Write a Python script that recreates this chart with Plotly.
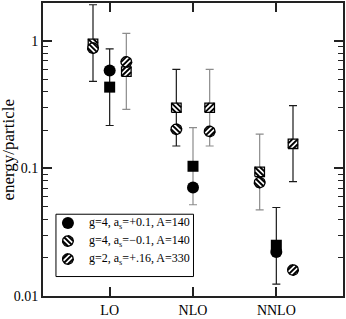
import numpy as np
import plotly.graph_objects as go

# ---------------- data ----------------
orders = ["LO", "NLO", "NNLO"]
order_pos = [1, 2, 3]

labels = ["g=4, a<sub>s</sub>=+0.1, A=140",
          "g=4, a<sub>s</sub>=\u22120.1, A=140",
          "g=2, a<sub>s</sub>=+.16, A=330"]

# series 1: g=4, as=+0.1 (solid)
s1_square = [0.434, 0.104, 0.025]
s1_circle = [0.585, 0.071, 0.0221]
s1_err_lo = [0.217, 0.0519, 0.0124]
s1_err_hi = [0.865, 0.209, 0.0494]
s1_bar_grey = [False, True, False]

# series 2: g=4, as=-0.1 (backslash hatch)
s2_square = [0.95, 0.299, 0.094]
s2_circle = [0.877, 0.203, 0.0776]
s2_err_lo = [0.482, 0.150, 0.0473]
s2_err_hi = [1.92, 0.598, 0.186]
s2_bar_grey = [False, False, True]

# series 3: g=2, as=+.16 (slash hatch)
s3_square = [0.574, 0.299, 0.156]
s3_circle = [0.684, 0.195, 0.0160]
s3_err_lo = [0.290, 0.150, 0.0789]
s3_err_hi = [1.144, 0.598, 0.311]
s3_bar_grey = [True, True, False]

# ---------------- layout constants ----------------
W, H = 346, 319
ML, MR, MT, MB = 43, 2, 1, 17
X_RANGE = [0.2, 3.8]
Y_LOG_RANGE = [-2.0, 0.297]
PLOT_W = W - ML - MR
PLOT_H = H - MT - MB
PX_PER_X = PLOT_W / (X_RANGE[1] - X_RANGE[0])
PX_PER_DEC = PLOT_H / (Y_LOG_RANGE[1] - Y_LOG_RANGE[0])

FONT = "Liberation Serif"
BLACK_BAR = "#1a1a1a"
GREY_BAR = "#8c8c8c"
HATCH_R = 5.4        # circle radius, px
HATCH_HALF = 4.8     # square half side, px
OUTLINE_W = 1.3
STRIPE_GAP = 3.7     # px between stripe centres
STRIPE_W = 1.9

series = [
    dict(sq=s1_square, ci=s1_circle, lo=s1_err_lo, hi=s1_err_hi, grey=s1_bar_grey, off=0.0, slope=None),
    dict(sq=s2_square, ci=s2_circle, lo=s2_err_lo, hi=s2_err_hi, grey=s2_bar_grey, off=-0.2, slope=-1),
    dict(sq=s3_square, ci=s3_circle, lo=s3_err_lo, hi=s3_err_hi, grey=s3_bar_grey, off=0.2, slope=1),
]

# --- marker geometry in pixel offsets (relative to marker centre, y up) ---
def circle_outline(r):
    t = np.linspace(0, 2 * np.pi, 37)
    return r * np.cos(t), r * np.sin(t)


def square_outline(h):
    return np.array([-h, h, h, -h, -h]), np.array([-h, -h, h, h, -h])


def stripes(kind, size, slope):
    """list of (dx0, dy0, dx1, dy1) segments of hatching, pixel offsets"""
    u = np.array([1.0, slope]) / np.sqrt(2)
    n = np.array([-slope, 1.0]) / np.sqrt(2)
    segs = []
    for d in (-STRIPE_GAP, 0.0, STRIPE_GAP):
        if kind == "circle":
            if abs(d) >= size:
                continue
            half = np.sqrt(size ** 2 - d ** 2)
            t0, t1 = -half, half
        else:
            ts = np.linspace(-2 * size, 2 * size, 801)
            pts = d * n[None, :] + ts[:, None] * u[None, :]
            ok = (np.abs(pts[:, 0]) <= size) & (np.abs(pts[:, 1]) <= size)
            if not ok.any():
                continue
            t0, t1 = ts[ok].min(), ts[ok].max()
        p0 = d * n + t0 * u
        p1 = d * n + t1 * u
        segs.append((p0[0], p0[1], p1[0], p1[1]))
    return segs


def to_data(x0, y0, dx, dy):
    return x0 + np.asarray(dx) / PX_PER_X, y0 * 10 ** (np.asarray(dy) / PX_PER_DEC)


def to_paper_off(x0, y0, dx, dy):
    return x0 + np.asarray(dx) / PLOT_W, y0 + np.asarray(dy) / PLOT_H


def add_hatched(fig, xs, ys, kind, slope, conv, axes=("x", "y")):
    if kind == "circle":
        ox, oy = circle_outline(HATCH_R)
        size = HATCH_R
    else:
        ox, oy = square_outline(HATCH_HALF)
        size = HATCH_HALF
    segs = stripes(kind, size, slope)
    px, py, lx, ly = [], [], [], []
    for x0, y0 in zip(xs, ys):
        a, b = conv(x0, y0, ox, oy)
        px += list(a) + [None]
        py += list(b) + [None]
        for (sx0, sy0, sx1, sy1) in segs:
            a, b = conv(x0, y0, [sx0, sx1], [sy0, sy1])
            lx += list(a) + [None]
            ly += list(b) + [None]
    fig.add_trace(go.Scatter(x=px, y=py, xaxis=axes[0], yaxis=axes[1], mode="lines",
                             fill="toself", fillcolor="white",
                             line=dict(color="white", width=0),
                             showlegend=False, hoverinfo="skip"))
    fig.add_trace(go.Scatter(x=lx, y=ly, xaxis=axes[0], yaxis=axes[1], mode="lines",
                             line=dict(color="black", width=STRIPE_W),
                             showlegend=False, hoverinfo="skip"))
    fig.add_trace(go.Scatter(x=px, y=py, xaxis=axes[0], yaxis=axes[1], mode="lines",
                             line=dict(color="black", width=OUTLINE_W),
                             showlegend=False, hoverinfo="skip"))


fig = go.Figure()

# error bars (behind markers), grouped by colour
for grey_flag, col in [(False, BLACK_BAR), (True, GREY_BAR)]:
    xs, ys, up, dn = [], [], [], []
    for s in series:
        for i, p in enumerate(order_pos):
            if s["grey"][i] == grey_flag:
                xs.append(p + s["off"])
                ys.append(s["sq"][i])
                up.append(s["hi"][i] - s["sq"][i])
                dn.append(s["sq"][i] - s["lo"][i])
    fig.add_trace(go.Scatter(
        x=xs, y=ys, mode="markers", marker=dict(size=1, opacity=0),
        error_y=dict(type="data", array=up, arrayminus=dn, symmetric=False,
                     color=col, thickness=1.2, width=4),
        showlegend=False, hoverinfo="skip"))

# markers
for s in series:
    xs = [p + s["off"] for p in order_pos]
    if s["slope"] is None:
        fig.add_trace(go.Scatter(x=xs, y=s["sq"], mode="markers",
                                 marker=dict(symbol="square", size=11, color="black"),
                                 showlegend=False))
        fig.add_trace(go.Scatter(x=xs, y=s["ci"], mode="markers",
                                 marker=dict(symbol="circle", size=12, color="black"),
                                 showlegend=False))
    else:
        add_hatched(fig, xs, s["sq"], "square", s["slope"], to_data)
        add_hatched(fig, xs, s["ci"], "circle", s["slope"], to_data)

# ---------------- manual legend ----------------
def to_paper(pxx, pyy):
    return (pxx - ML) / PLOT_W, (H - MB - pyy) / PLOT_H

bx0, by0 = to_paper(56, 282)
bx1, by1 = to_paper(194, 218)
fig.add_shape(type="rect", xref="paper", yref="paper", x0=bx0, y0=by0, x1=bx1, y1=by1,
              line=dict(color="black", width=1), fillcolor="white", layer="below")

row_py = [227, 245.5, 264]
for k, s in enumerate(series):
    mx, my = to_paper(68, row_py[k])
    tx, _ = to_paper(87, row_py[k])
    if s["slope"] is None:
        fig.add_trace(go.Scatter(x=[mx], y=[my], xaxis="x2", yaxis="y2", mode="markers",
                                 marker=dict(symbol="circle", size=12, color="black"),
                                 showlegend=False, hoverinfo="skip"))
    else:
        add_hatched(fig, [mx], [my], "circle", s["slope"], to_paper_off, axes=("x2", "y2"))
    fig.add_annotation(x=tx, y=my, xref="paper", yref="paper", text=labels[k],
                       showarrow=False, xanchor="left", yanchor="middle",
                       font=dict(family=FONT, size=12, color="black"))

# y-axis title
fig.add_annotation(x=(8 - ML) / PLOT_W, y=0.5, xref="paper", yref="paper",
                   text="energy/particle", textangle=-90, showarrow=False,
                   xanchor="center", yanchor="middle",
                   font=dict(family=FONT, size=17, color="black"))

minor_vals = [k * 10.0 ** e for e in (-2, -1, 0) for k in range(2, 10) if k * 10.0 ** e < 2.0]

fig.update_layout(
    width=W, height=H,
    margin=dict(l=ML, r=MR, t=MT, b=MB),
    paper_bgcolor="white", plot_bgcolor="white",
    font=dict(family=FONT, size=14, color="black"),
    showlegend=False,
    xaxis=dict(range=X_RANGE, tickvals=order_pos, ticktext=orders,
               ticks="inside", ticklen=9, tickwidth=1.5, tickcolor="#222",
               showline=True, linecolor="#222", linewidth=2, mirror="allticks",
               showgrid=False, zeroline=False, fixedrange=True),
    yaxis=dict(type="log", range=Y_LOG_RANGE, tickvals=[0.01, 0.1, 1],
               ticktext=["0.01", "0.1", "1"],
               ticks="inside", ticklen=9, tickwidth=1.5, tickcolor="#222",
               minor=dict(tickvals=minor_vals, ticks="inside", ticklen=5,
                          tickwidth=1.2, tickcolor="#222", showgrid=False),
               showline=True, linecolor="#222", linewidth=2, mirror="allticks",
               showgrid=False, zeroline=False, fixedrange=True),
    xaxis2=dict(overlaying="x", range=[0, 1], visible=False, fixedrange=True),
    yaxis2=dict(overlaying="y", range=[0, 1], visible=False, fixedrange=True),
)

fig.write_html("out.html", config={"displayModeBar": False},
               post_script="document.body.style.margin='0';")
